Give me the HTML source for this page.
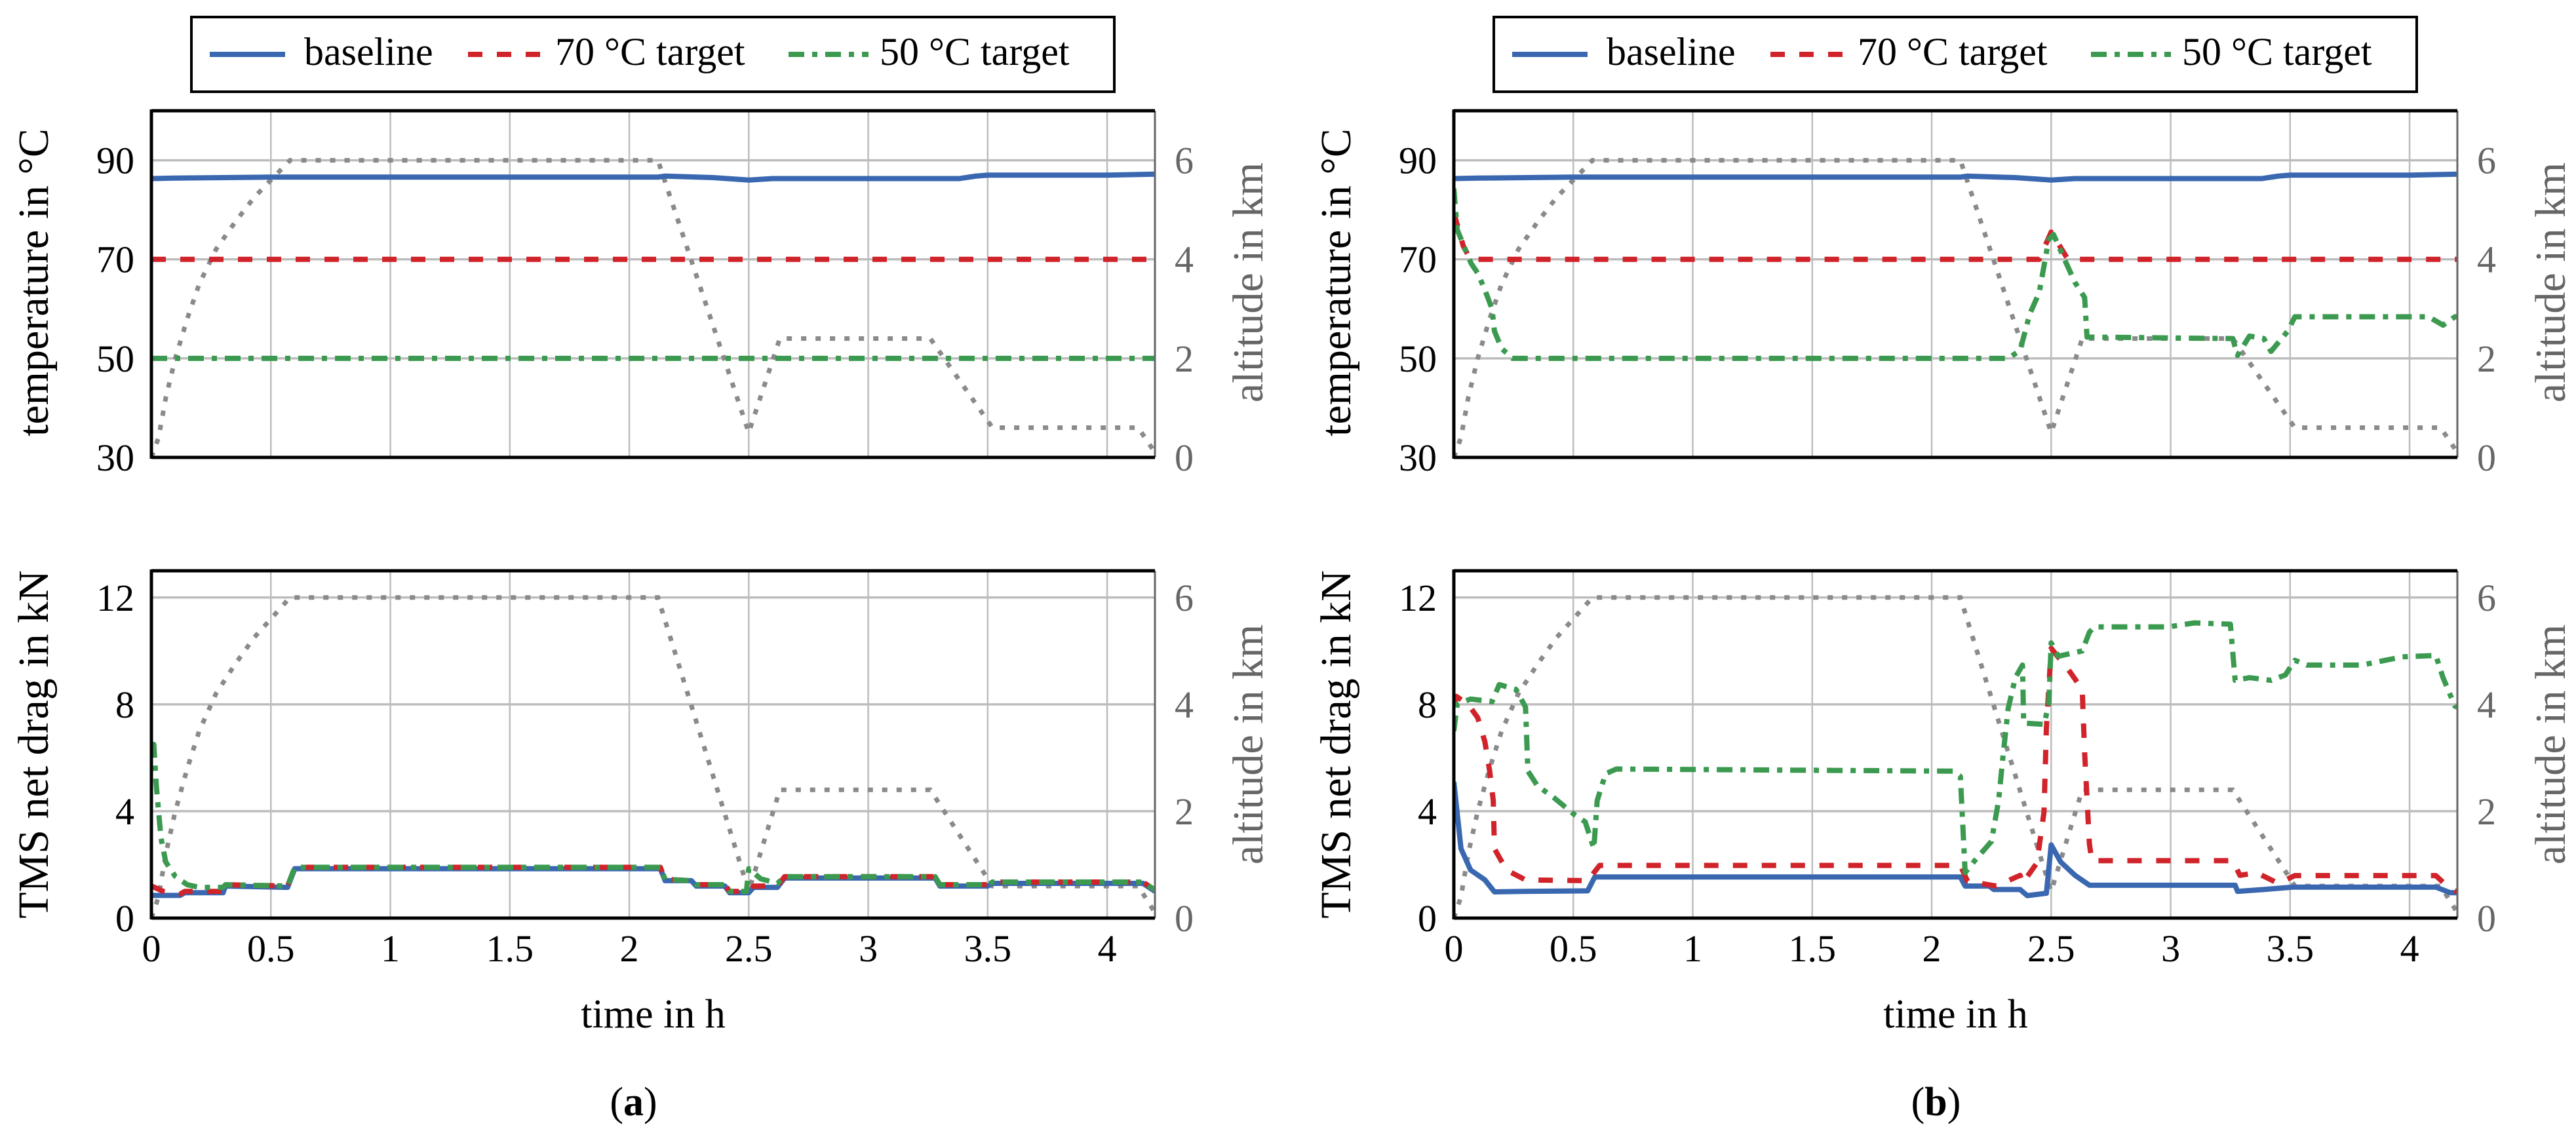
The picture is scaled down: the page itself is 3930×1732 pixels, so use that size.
<!DOCTYPE html>
<html><head><meta charset="utf-8"><style>
html,body{margin:0;padding:0;background:#fff;}
svg{display:block;font-family:"Liberation Serif",serif;}
</style></head><body>
<svg id="chart" width="3930" height="1732" viewBox="0 0 3930 1732" xmlns="http://www.w3.org/2000/svg"></svg>
<script>
// ---- data ----
const altT = [0,0.03,0.06,0.1,0.15,0.2,0.27,0.35,0.43,0.5,0.55,0.58,2.12,2.5,2.63,3.26,3.52,4.13,4.2];
const altV = [0,0.4,1.2,2.0,2.8,3.5,4.2,4.75,5.25,5.6,5.85,6,6,0.5,2.4,2.4,0.6,0.6,0.1];

const tempBaseT = [0,0.1,0.5,2.12,2.15,2.35,2.5,2.6,3.38,3.45,3.5,4.0,4.2];
const tempBaseV = [86.3,86.4,86.6,86.6,86.8,86.5,86.0,86.3,86.3,86.8,87.0,87.0,87.2];
const tempA70T = [0,4.2];
const tempA70V = [70,70];
const tempA50T = [0,4.2];
const tempA50V = [50,50];
const tempB70T = [0,0.04,0.07,2.45,2.5,2.57,4.2];
const tempB70V = [79.4,72.6,70,70,75.5,70,70];
const tempB50T = [0,0.014,0.072,0.1,0.13,0.16,0.17,0.2,0.245,2.32,2.37,2.41,2.45,2.49,2.51,2.55,2.6,2.64,2.65,3.26,3.28,3.33,3.39,3.42,3.49,3.52,4.08,4.14,4.19,4.2];
const tempB50V = [84.3,76,69.2,67.2,63.8,60,55.5,52,50,50,51.6,58.9,63.3,74,75,70.6,65.3,62.3,54.3,54,50.6,54.5,54,51.4,55.5,58.4,58.4,56.7,58.4,58.4];

const dragABaseT = [0,0.12,0.14,0.3,0.31,0.57,0.6,2.13,2.15,2.26,2.28,2.4,2.42,2.5,2.52,2.62,2.65,3.28,3.3,3.5,3.52,4.15,4.2];
const dragABaseV = [0.85,0.85,0.95,0.95,1.2,1.15,1.85,1.85,1.4,1.4,1.2,1.2,0.95,0.95,1.15,1.15,1.5,1.5,1.2,1.2,1.3,1.3,1.0];
const dragA70T = [0,0.05,0.12,0.14,0.3,0.31,0.57,0.6,2.13,2.15,2.26,2.28,2.4,2.42,2.5,2.52,2.62,2.65,3.28,3.3,3.5,3.52,4.15,4.2];
const dragA70V = [1.2,1.0,0.9,1.0,1.0,1.25,1.2,1.9,1.9,1.45,1.4,1.25,1.25,1.0,1.0,1.2,1.2,1.55,1.55,1.25,1.25,1.35,1.35,1.05];
const dragA50T = [0,0.01,0.02,0.04,0.06,0.1,0.15,0.2,0.3,0.31,0.57,0.6,2.13,2.15,2.26,2.28,2.4,2.42,2.49,2.5,2.55,2.62,2.65,3.28,3.3,3.5,3.52,4.15,4.2];
const dragA50V = [6.5,6.5,5.0,3.0,2.1,1.56,1.25,1.15,1.15,1.25,1.2,1.9,1.9,1.45,1.4,1.25,1.25,1.0,1.0,1.85,1.47,1.3,1.55,1.55,1.25,1.25,1.35,1.35,1.05];

const dragBBaseT = [0,0.03,0.07,0.13,0.17,0.29,0.56,0.59,2.12,2.14,2.24,2.26,2.37,2.4,2.48,2.5,2.54,2.6,2.66,3.27,3.28,3.39,3.51,4.11,4.17,4.2];
const dragBBaseV = [5.1,2.6,1.8,1.43,0.98,1.0,1.02,1.54,1.54,1.2,1.2,1.07,1.07,0.84,0.93,2.74,2.1,1.6,1.23,1.23,1.0,1.07,1.16,1.16,0.95,0.95];
const dragB70T = [0,0.01,0.06,0.1,0.13,0.15,0.165,0.17,0.22,0.3,0.56,0.61,2.12,2.15,2.27,2.37,2.38,2.44,2.47,2.48,2.5,2.54,2.58,2.63,2.64,2.66,2.67,3.26,3.29,3.36,3.45,3.52,4.11,4.14,4.19,4.2];
const dragB70V = [8.0,8.3,8.0,7.5,6.6,5.5,4.4,2.6,1.8,1.43,1.4,1.97,1.97,1.38,1.2,1.6,1.3,2.06,3.96,7.1,10.1,9.65,9.2,8.56,6.2,2.78,2.15,2.15,1.6,1.7,1.3,1.59,1.59,1.34,1.02,1.0];
const dragB50T = [0,0.014,0.07,0.16,0.19,0.26,0.3,0.31,0.35,0.42,0.505,0.55,0.586,0.6,0.635,0.68,2.09,2.12,2.14,2.18,2.25,2.28,2.3,2.32,2.35,2.38,2.385,2.47,2.49,2.5,2.53,2.63,2.66,2.68,2.99,3.1,3.25,3.27,3.33,3.42,3.48,3.52,3.57,3.8,3.97,4.11,4.14,4.19,4.2];
const dragB50V = [7.0,8.0,8.2,8.1,8.74,8.56,7.9,5.5,4.95,4.5,3.87,3.6,2.6,4.4,5.4,5.58,5.5,5.3,1.7,2.15,2.87,4.4,6.2,7.84,9.0,9.47,7.3,7.25,8.0,10.3,9.8,10.0,10.7,10.9,10.9,11.05,11.0,8.9,9.0,8.9,9.1,9.65,9.47,9.47,9.78,9.83,9.0,7.93,7.9];

const xTicks = [0,0.5,1,1.5,2,2.5,3,3.5,4];
const xTickLabels = ["0","0.5","1","1.5","2","2.5","3","3.5","4"];
const tempTicks = [30,50,70,90];
const dragTicks = [0,4,8,12];
const altTicksTop = [0,2,4,6];
const altTicksBot = [0,2,4,6];

// ---- drawing ----
const NS = "http://www.w3.org/2000/svg";
const svg = document.getElementById('chart');
function mk(tag, attrs, parent){ const e=document.createElementNS(NS,tag); for(const k in attrs) e.setAttribute(k,attrs[k]); (parent||svg).appendChild(e); return e; }
const BLUE="#3a68b0", RED="#d0232a", GREEN="#3b9a50", GRAY="#8a8a8a";
const styles = {
  base:{stroke:BLUE,w:8,dash:""},
  t70:{stroke:RED,w:8,dash:"22 22"},
  t50:{stroke:GREEN,w:8,dash:"24 12 8 12"},
  alt:{stroke:GRAY,w:7,dash:"8 14"}
};

function panel(ox, label, d){
  const X0=ox, X1=ox+1531, XMAX=4.2;
  const sx = t => X0 + t/XMAX*(X1-X0);
  const g = mk('g',{});
  
  
  const plots = [
    {name:'temperature', y0:169, y1:698, min:30, max:100, ticks:tempTicks, altMax:7, series:d.temp, ylab:'temperature in °C', yl:431},
    {name:'drag', y0:871, y1:1401, min:0, max:13, ticks:dragTicks, altMax:6.5, series:d.drag, ylab:'TMS net drag in kN', yl:1136}
  ];
  plots.forEach((p,pi)=>{
    const sy = v => p.y1 - (v-p.min)/(p.max-p.min)*(p.y1-p.y0);
    const sa = v => p.y1 - v/p.altMax*(p.y1-p.y0);
    const pg = mk('g',{},g);
    
    
    xTicks.forEach(t=>{ if(t===0) return; const l=mk('line',{x1:sx(t),x2:sx(t),y1:p.y0,y2:p.y1,stroke:'#bdbdbd','stroke-width':2.5},pg);
        });
    p.ticks.forEach(v=>{ if(v===p.min) return; const l=mk('line',{x1:X0,x2:X1,y1:sy(v),y2:sy(v),stroke:'#bdbdbd','stroke-width':3.5},pg);
        });
    p.ticks.forEach(v=>{ const t=mk('text',{x:X0-26,y:sy(v)+20,'text-anchor':'end','font-size':58,fill:'#000'},pg); t.textContent=String(v);
        });
    (pi===0?altTicksTop:altTicksBot).forEach(v=>{ const t=mk('text',{x:X1+30,y:sa(v)+20,'font-size':58,fill:'#666'},pg); t.textContent=String(v);
        });
    const clipId='clip'+label+pi;
    const cp=mk('clipPath',{id:clipId},pg); mk('rect',{x:X0,y:p.y0,width:X1-X0,height:p.y1-p.y0},cp);
    const sg=mk('g',{'clip-path':'url(#'+clipId+')'},pg);
    const altPts = altT.map((t,i)=>sx(t)+','+sa(altV[i])).join(' ');
    const al=mk('polyline',{points:altPts,fill:'none',stroke:styles.alt.stroke,'stroke-width':styles.alt.w,'stroke-dasharray':styles.alt.dash},sg);
     
    [['base','baseline-line'],['t70','target-70-line'],['t50','target-50-line']].forEach(([k,nm])=>{
      const [T,V]=p.series[k]; const st=styles[k];
      const pts=T.map((t,i)=>sx(t)+','+sy(V[i])).join(' ');
      const pl=mk('polyline',{points:pts,fill:'none',stroke:st.stroke,'stroke-width':st.w,'stroke-dasharray':st.dash,'stroke-linejoin':'round'},sg);
       
    });
    mk('line',{x1:X1,x2:X1,y1:p.y0,y2:p.y1,stroke:'#666','stroke-width':3},pg);
    mk('line',{x1:X0,x2:X0,y1:p.y0-2,y2:p.y1+2,stroke:'#000','stroke-width':5},pg);
    mk('line',{x1:X0,x2:X1,y1:p.y0,y2:p.y0,stroke:'#000','stroke-width':5},pg);
    mk('line',{x1:X0,x2:X1,y1:p.y1,y2:p.y1,stroke:'#000','stroke-width':5},pg);
    const yl=mk('text',{x:0,y:0,'text-anchor':'middle','font-size':66,fill:'#000',transform:'translate('+(X0-158)+','+p.yl+') rotate(-90)'},pg);
    yl.textContent=p.ylab;  
    const yr=mk('text',{x:0,y:0,'text-anchor':'middle','font-size':66,fill:'#666',transform:'translate('+(X1+164)+','+p.yl+') rotate(-90)'},pg);
    yr.textContent='altitude in km';  
  });
  xTicks.forEach((t,i)=>{ const tx=mk('text',{x:sx(t),y:1467,'text-anchor':'middle','font-size':58,fill:'#000'},g); tx.textContent=xTickLabels[i];
      });
  const xl=mk('text',{x:(X0+X1)/2,y:1568,'text-anchor':'middle','font-size':62,fill:'#000'},g); xl.textContent='time in h';
   
  const cap=mk('text',{x:(X0+X1)/2-30,y:1702,'text-anchor':'middle','font-size':62,fill:'#000'},g);
  cap.innerHTML='(<tspan font-weight="bold">'+label+'</tspan>)';
   
  const lx=ox+61;
  const lg=mk('g',{},g);
   
  mk('rect',{x:lx,y:26,width:1408,height:114,fill:'#fff',stroke:'#000','stroke-width':4},lg);
  const ent=[['base','baseline',28,172,115],['t70','70 °C target',422,555,115],['t50','50 °C target',911,1050,122]];
  ent.forEach(([k,txt,sx0,tx0,len])=>{
    const st=styles[k];
    const e=mk('g',{},lg);  
    mk('line',{x1:lx+sx0,x2:lx+sx0+len,y1:83,y2:83,stroke:st.stroke,'stroke-width':st.w,'stroke-dasharray':st.dash},e);
    const t=mk('text',{x:lx+tx0,y:99,'font-size':60,fill:'#000'},e); t.textContent=txt;
  });
}

panel(231,'a',{
  temp:{base:[tempBaseT,tempBaseV],t70:[tempA70T,tempA70V],t50:[tempA50T,tempA50V]},
  drag:{base:[dragABaseT,dragABaseV],t70:[dragA70T,dragA70V],t50:[dragA50T,dragA50V]}
});
panel(2218,'b',{
  temp:{base:[tempBaseT,tempBaseV],t70:[tempB70T,tempB70V],t50:[tempB50T,tempB50V]},
  drag:{base:[dragBBaseT,dragBBaseV],t70:[dragB70T,dragB70V],t50:[dragB50T,dragB50V]}
});
</script>
</body></html>
